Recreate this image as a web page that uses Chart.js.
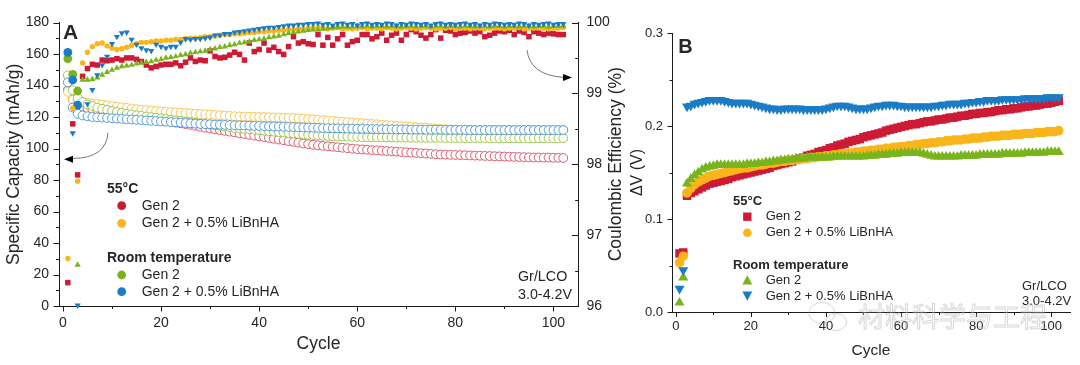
<!DOCTYPE html>
<html><head><meta charset="utf-8">
<script src="https://cdn.jsdelivr.net/npm/chart.js@4.4.1/dist/chart.umd.min.js"></script>
<style>
html,body{margin:0;padding:0;background:#fff;width:1080px;height:365px;overflow:hidden}
#ca{position:absolute;left:0;top:0}
#cb{position:absolute;left:600px;top:0}
</style></head><body>
<canvas id="ca" width="640" height="365" style="width:640px;height:365px"></canvas>
<canvas id="cb" width="480" height="365" style="width:480px;height:365px"></canvas>
<script>
// ---------------- DATA ----------------
const cycles = Array.from({length:102}, (_, i) => i + 1);
const formationCycles = [1, 2, 3];

// Panel A – specific capacity (mAh/g), open circles
const capRed = [137,131,128,126.5,125.5,125,124.5,124,123.5,123,
 122.5,122,121.5,121,120.5,120,119.5,119,118.5,118,
 117.5,117,116.5,116,115.5,115,114.4,113.8,113.2,112.7,
 112.2,111.7,111.2,110.7,110.2,109.7,109.2,108.7,108.2,107.7,
 107.2,106.7,106.2,105.7,105.2,104.7,104.2,103.7,103.2,102.8,
 102.4,102,101.7,101.4,101.1,100.8,100.5,100.2,99.9,99.6,
 99.4,99.2,99,98.8,98.6,98.4,98.2,98,97.8,97.6,
 97.4,97.2,97,96.8,96.6,96.4,96.2,96.1,96,95.9,
 95.8,95.7,95.6,95.5,95.4,95.3,95.2,95.1,95,94.9,
 94.8,94.7,94.6,94.5,94.4,94.3,94.3,94.2,94.2,94.1,94.1,94];
const capYellow = [136,131,130,129.5,129,128.6,128.2,127.8,127.4,127,
 126.6,126.2,125.8,125.4,125,124.7,124.4,124.1,123.8,123.5,
 123.3,123.1,122.9,122.7,122.5,122.3,122.1,121.9,121.7,121.5,
 121.3,121.1,120.9,120.7,120.5,120.4,120.3,120.2,120.1,120,
 119.9,119.8,119.7,119.6,119.5,119.4,119.3,119.1,118.9,118.7,
 118.5,118.2,118,117.7,117.5,117.2,117,116.8,116.5,116.3,
 116.1,115.8,115.6,115.4,115.1,114.9,114.7,114.4,114.2,114,
 113.8,113.5,113.3,113.1,112.8,112.6,112.4,112.2,112.1,112,
 111.9,111.9,111.8,111.8,111.8,111.8,111.8,111.8,111.8,111.8,
 111.8,111.8,111.8,111.8,111.8,111.8,111.8,111.8,111.8,111.8,111.8,111.8];
const capGreen = [146.5,137,132,129.5,128,127,126,125.2,124.5,123.8,
 123.2,122.6,122.1,121.6,121.1,120.7,120.3,119.9,119.5,119.1,
 118.7,118.3,117.9,117.5,117.1,116.7,116.3,115.9,115.5,115.1,
 114.7,114.3,113.9,113.5,113.1,112.8,112.5,112.2,111.9,111.6,
 111.3,111,110.7,110.4,110.1,109.8,109.5,109.2,108.9,108.7,
 108.5,108.3,108.1,107.9,107.8,107.7,107.6,107.5,107.4,107.3,
 107.2,107.2,107.1,107.1,107,107,107,106.9,106.9,106.9,
 106.8,106.8,106.8,106.8,106.7,106.7,106.7,106.7,106.7,106.6,
 106.6,106.6,106.6,106.6,106.6,106.6,106.5,106.5,106.5,106.5,
 106.5,106.5,106.5,106.5,106.5,106.5,106.5,106.5,106.5,106.5,106.5,106.5];
const capBlue = [142,126,122,121,120.5,120,119.8,119.6,119.4,119.2,
 119,118.8,118.6,118.4,118.2,118,117.8,117.6,117.4,117.2,
 117,116.8,116.6,116.4,116.2,116,115.8,115.6,115.5,115.4,
 115.2,115.1,115,114.9,114.8,114.7,114.6,114.5,114.4,114.3,
 114.2,114.1,114,113.9,113.8,113.7,113.6,113.5,113.4,113.3,
 113.2,113.1,113,112.9,112.8,112.8,112.7,112.6,112.6,112.5,
 112.5,112.4,112.4,112.3,112.3,112.2,112.2,112.1,112.1,112.1,
 112,112,112,111.9,111.9,111.9,111.9,111.8,111.8,111.8,
 111.8,111.8,111.7,111.7,111.7,111.7,111.7,111.7,111.7,111.7,
 111.7,111.7,111.7,111.7,111.7,111.7,111.7,111.7,111.7,111.7,111.7,111.7];
// formation-cycle capacities, filled circles
const capFormGreen = [157, 147, 136.5];
const capFormBlue = [161, 143.5, 127.5];

// Panel A – coulombic efficiency (%), filled markers
const ceRed = [96.33,98.57,97.85,99.24,99.35,99.41,99.40,99.47,99.46,99.47,
 99.49,99.47,99.50,99.50,99.48,99.45,99.40,99.36,99.38,99.40,
 99.41,99.41,99.43,99.39,99.44,99.50,99.45,99.47,99.46,99.60,
 99.52,99.50,99.51,99.54,99.58,99.55,99.47,99.71,99.59,99.62,
 99.71,99.61,99.65,99.59,99.55,99.66,99.80,99.71,99.73,99.70,
 99.69,99.83,99.68,99.79,99.68,99.77,99.83,99.68,99.73,99.75,
 99.83,99.83,99.77,99.80,99.85,99.75,99.82,99.85,99.75,99.83,
 99.90,99.87,99.82,99.78,99.83,99.90,99.78,99.89,99.88,99.83,
 99.85,99.86,99.88,99.85,99.87,99.80,99.82,99.85,99.88,99.87,
 99.89,99.83,99.88,99.86,99.80,99.87,99.85,99.83,99.85,99.84,99.83,99.83];
const ceYellow = [96.67,98.79,97.76,99.43,99.58,99.66,99.70,99.71,99.67,99.64,
 99.62,99.63,99.65,99.68,99.70,99.72,99.72,99.73,99.74,99.74,
 99.75,99.75,99.76,99.76,99.77,99.78,99.78,99.79,99.80,99.80,
 99.81,99.82,99.83,99.83,99.84,99.84,99.85,99.86,99.86,99.87,
 99.87,99.88,99.88,99.89,99.89,99.90,99.90,99.91,99.91,99.92,
 99.92,99.93,99.92,99.91,99.92,99.93,99.91,99.92,99.91,99.92,
 99.93,99.91,99.92,99.92,99.91,99.93,99.92,99.91,99.92,99.93,
 99.92,99.91,99.92,99.93,99.92,99.91,99.92,99.92,99.93,99.91,
 99.92,99.92,99.91,99.93,99.92,99.91,99.92,99.93,99.92,99.91,
 99.92,99.92,99.93,99.91,99.92,99.92,99.93,99.92,99.91,99.92,99.92,99.93];
const ceGreen = [null,null,96.58,99.19,99.19,99.20,99.22,99.26,99.30,99.33,
 99.36,99.38,99.39,99.40,99.42,99.43,99.44,99.45,99.47,99.48,
 99.50,99.51,99.52,99.54,99.55,99.57,99.58,99.59,99.60,99.62,
 99.63,99.65,99.66,99.68,99.69,99.71,99.72,99.73,99.75,99.76,
 99.77,99.79,99.80,99.81,99.83,99.85,99.86,99.87,99.88,99.89,
 99.90,99.90,99.91,99.92,99.93,99.93,99.94,99.94,99.94,99.95,
 99.94,99.95,99.94,99.95,99.95,99.94,99.95,99.95,99.94,99.95,
 99.95,99.94,99.95,99.95,99.94,99.95,99.95,99.94,99.95,99.95,
 99.94,99.95,99.95,99.94,99.95,99.95,99.94,99.95,99.95,99.94,
 99.95,99.95,99.94,99.95,99.95,99.94,99.95,99.95,99.94,99.95,99.95,99.95];
const ceBlue = [null,98.44,96.01,null,98.85,99.05,99.26,99.40,99.52,99.70,
 99.80,99.85,99.86,99.76,99.69,99.64,99.61,99.60,99.69,99.66,
 99.64,99.66,99.66,99.72,99.77,99.76,99.77,99.77,99.78,99.79,
 99.82,99.82,99.84,99.84,99.86,99.87,99.88,99.89,99.90,99.91,
 99.92,99.93,99.93,99.94,99.95,99.96,99.96,99.97,99.97,99.98,
 99.98,99.99,99.97,99.98,99.96,99.98,99.99,99.97,99.98,99.96,
 99.98,99.99,99.97,99.98,99.97,99.99,99.98,99.96,99.98,99.97,
 99.99,99.98,99.97,99.98,99.96,99.98,99.99,99.97,99.98,99.97,
 99.98,99.99,99.97,99.98,99.96,99.98,99.97,99.99,99.98,99.97,
 99.98,99.97,99.99,99.98,99.96,99.98,99.97,99.98,99.99,99.97,99.98,99.98];

// Panel B – ΔV (V)
const dvRed = [0.063,0.064,0.125,0.128,0.130,0.132,0.134,0.136,0.138,0.139,
 0.140,0.141,0.142,0.143,0.145,0.146,0.147,0.148,0.149,0.150,
 0.151,0.152,0.153,0.154,0.155,0.157,0.158,0.159,0.160,0.161,
 0.162,0.164,0.165,0.166,0.168,0.169,0.170,0.172,0.173,0.174,
 0.176,0.177,0.179,0.180,0.181,0.183,0.184,0.185,0.186,0.188,
 0.189,0.190,0.191,0.192,0.193,0.195,0.196,0.197,0.198,0.199,
 0.200,0.201,0.202,0.202,0.203,0.204,0.205,0.205,0.206,0.207,
 0.207,0.208,0.209,0.209,0.210,0.211,0.211,0.212,0.213,0.213,
 0.214,0.214,0.215,0.215,0.216,0.217,0.217,0.218,0.218,0.219,
 0.219,0.220,0.221,0.221,0.222,0.222,0.223,0.224,0.224,0.225,0.226,0.227];
const dvYellow = [0.053,0.060,0.128,0.133,0.137,0.140,0.142,0.144,0.146,0.147,
 0.148,0.149,0.150,0.151,0.152,0.153,0.154,0.155,0.155,0.156,
 0.157,0.158,0.158,0.159,0.160,0.160,0.161,0.162,0.162,0.163,
 0.163,0.164,0.164,0.165,0.165,0.166,0.166,0.167,0.167,0.168,
 0.168,0.169,0.169,0.170,0.170,0.171,0.171,0.172,0.172,0.173,
 0.173,0.174,0.174,0.175,0.175,0.176,0.176,0.177,0.177,0.178,
 0.178,0.179,0.179,0.180,0.180,0.181,0.181,0.182,0.182,0.183,
 0.183,0.184,0.184,0.185,0.185,0.185,0.186,0.186,0.187,0.187,
 0.187,0.188,0.188,0.189,0.189,0.189,0.190,0.190,0.190,0.191,
 0.191,0.191,0.192,0.192,0.192,0.193,0.193,0.193,0.194,0.194,0.194,0.195];
const dvGreen = [0.010,0.037,0.138,0.143,0.147,0.150,0.153,0.155,0.156,0.157,
 0.158,0.158,0.158,0.158,0.158,0.158,0.158,0.158,0.159,0.159,
 0.159,0.160,0.160,0.161,0.161,0.162,0.162,0.163,0.163,0.164,
 0.164,0.165,0.165,0.165,0.166,0.166,0.166,0.166,0.166,0.166,
 0.166,0.167,0.167,0.167,0.167,0.167,0.167,0.167,0.167,0.167,
 0.168,0.168,0.168,0.169,0.169,0.169,0.170,0.170,0.170,0.171,
 0.171,0.171,0.171,0.171,0.171,0.170,0.169,0.168,0.167,0.167,
 0.167,0.167,0.167,0.167,0.167,0.168,0.168,0.168,0.168,0.168,
 0.169,0.169,0.169,0.169,0.169,0.169,0.170,0.170,0.170,0.170,
 0.170,0.170,0.171,0.171,0.171,0.171,0.171,0.171,0.172,0.172,0.172,0.172];
const dvBlue = [0.025,0.045,0.221,0.222,0.224,0.225,0.226,0.227,0.228,0.228,
 0.228,0.228,0.227,0.226,0.225,0.225,0.225,0.225,0.225,0.224,
 0.223,0.222,0.221,0.220,0.219,0.219,0.218,0.218,0.219,0.219,
 0.219,0.219,0.219,0.218,0.218,0.218,0.218,0.218,0.218,0.219,
 0.220,0.221,0.222,0.222,0.222,0.221,0.220,0.219,0.219,0.219,
 0.219,0.220,0.221,0.222,0.222,0.223,0.223,0.223,0.222,0.222,
 0.221,0.221,0.221,0.221,0.221,0.221,0.221,0.221,0.222,0.222,
 0.223,0.223,0.224,0.224,0.224,0.224,0.225,0.225,0.226,0.226,
 0.227,0.227,0.228,0.228,0.228,0.228,0.229,0.229,0.229,0.229,
 0.229,0.229,0.230,0.230,0.230,0.230,0.230,0.230,0.231,0.231,0.231,0.231];

// ticks and labels
const xTicks = [0, 20, 40, 60, 80, 100];
const xMinor = [10, 30, 50, 70, 90];
const capTicks = [0, 20, 40, 60, 80, 100, 120, 140, 160, 180];
const capMinor = [10, 30, 50, 70, 90, 110, 130, 150, 170];
const ceTicks = [96, 97, 98, 99, 100];
const ceMinor = [96.5, 97.5, 98.5, 99.5];
const dvTicks = [0, 0.1, 0.2, 0.3];
const dvMinor = [0.05, 0.15, 0.25];
const groupLabels = ['55°C', 'Room temperature'];
const seriesLabels = ['Gen 2', 'Gen 2 + 0.5% LiBnHA'];
const cellLabel = ['Gr/LCO', '3.0-4.2V'];
const watermark = '材料科学与工程';

// ---------------- STYLE ----------------
const FONT = '"Liberation Sans", Arial, Helvetica, sans-serif';
const TXT = '#262626', AXIS = '#1a1a1a';
const COL = {red:'#CE1B35', yellow:'#F9B51A', green:'#78B41B', blue:'#1A7CC4'};
const OPEN = {red:'rgba(206,27,53,0.7)', yellow:'rgba(240,180,30,0.75)', green:'rgba(130,180,30,0.75)', blue:'rgba(26,124,196,0.72)'};
Chart.defaults.font.family = FONT;

function pts(xs, ys){ const o=[]; ys.forEach((v,i)=>{ if(v!==null) o.push({x:xs[i], y:v}); }); return o; }

function tickMarks(ctx, scale, vals, len, kind){
  ctx.beginPath();
  vals.forEach(v=>{
    const p = Math.round(scale.getPixelForValue(v)) + 0.5;
    if (kind==='bottom'){ const y0 = scale.top; ctx.moveTo(p, y0); ctx.lineTo(p, y0+len); }
    else if (kind==='left'){ const x0 = scale.right + 0.5; ctx.moveTo(x0, p); ctx.lineTo(x0-len, p); }
    else { const x0 = scale.left + 0.5; ctx.moveTo(x0, p); ctx.lineTo(x0-len, p); }
  });
  ctx.stroke();
}
function txt(ctx, s, x, y, size, bold, align, base){
  ctx.font = (bold?'bold ':'') + size + 'px ' + FONT;
  ctx.fillStyle = TXT; ctx.textAlign = align||'left'; ctx.textBaseline = base||'middle';
  ctx.fillText(s, x, y);
}
function vtxt(ctx, s, x, y, size){
  ctx.save(); ctx.translate(x, y); ctx.rotate(-Math.PI/2);
  ctx.font = size + 'px ' + FONT; ctx.fillStyle = TXT; ctx.textAlign = 'center'; ctx.textBaseline = 'alphabetic';
  ctx.fillText(s, 0, 0); ctx.restore();
}
function marker(ctx, style, x, y, r, color){
  ctx.fillStyle = color; ctx.beginPath();
  if (style==='circle'){ ctx.arc(x, y, r, 0, Math.PI*2); }
  else if (style==='rect'){ ctx.rect(x-r, y-r, 2*r, 2*r); }
  else if (style==='up'){ ctx.moveTo(x, y-r); ctx.lineTo(x+r*0.95, y+r*0.75); ctx.lineTo(x-r*0.95, y+r*0.75); ctx.closePath(); }
  else { ctx.moveTo(x, y+r); ctx.lineTo(x+r*0.95, y-r*0.75); ctx.lineTo(x-r*0.95, y-r*0.75); ctx.closePath(); }
  ctx.fill();
}
function arrow(ctx, x0, y0, cx, cy, x1, y1, tipX, tipY, dir){
  ctx.save(); ctx.strokeStyle = '#777'; ctx.lineWidth = 1;
  ctx.beginPath(); ctx.moveTo(x0, y0); ctx.quadraticCurveTo(cx, cy, x1, y1); ctx.stroke();
  ctx.fillStyle = '#000'; ctx.beginPath();
  ctx.moveTo(tipX, tipY); ctx.lineTo(tipX - dir*9, tipY - 3.5); ctx.lineTo(tipX - dir*9, tipY + 3.5); ctx.closePath(); ctx.fill();
  ctx.restore();
}

function axisCommon(size, pad){
  return {
    grid:{display:false, drawTicks:false, tickLength:0},
    border:{display:true, color:AXIS, width:1},
    ticks:{padding:pad, color:TXT, font:{family:FONT, size:size}, autoSkip:false, maxRotation:0}
  };
}

// ---------------- CHART A ----------------
const capDS = (data, key, order) => ({type:'scatter', data, yAxisID:'y', pointStyle:'circle', pointRadius:4.4,
  pointBorderWidth:1, pointBorderColor:OPEN[key], pointBackgroundColor:'#fff', showLine:false, clip:false, order});
const ceDS = (data, key, style, r, rot, order) => ({type:'scatter', data, yAxisID:'y2', pointStyle:style, pointRadius:r,
  pointRotation:rot, pointBorderWidth:0, pointBackgroundColor:COL[key], pointBorderColor:COL[key], showLine:false, clip:false, order});

const decoA = {
  id:'decoA',
  afterDraw(chart){
    const ctx = chart.ctx, sx = chart.scales.x, sy = chart.scales.y, sy2 = chart.scales.y2;
    ctx.save(); ctx.strokeStyle = AXIS; ctx.lineWidth = 1;
    tickMarks(ctx, sx, xTicks, 5.5, 'bottom'); tickMarks(ctx, sx, xMinor, 3, 'bottom');
    tickMarks(ctx, sy, capTicks, 6, 'left'); tickMarks(ctx, sy, capMinor, 3.5, 'left');
    tickMarks(ctx, sy2, ceTicks, 6.5, 'rightIn'); tickMarks(ctx, sy2, ceMinor, 3.3, 'rightIn');
    // titles
    txt(ctx, 'Cycle', (chart.chartArea.left+chart.chartArea.right)/2, 349.2, 17.5, false, 'center', 'alphabetic');
    vtxt(ctx, 'Specific Capacity (mAh/g)', 18.8, (chart.chartArea.top+chart.chartArea.bottom)/2, 17.5);
    vtxt(ctx, 'Coulombic Efficiency (%)', 620.7, (chart.chartArea.top+chart.chartArea.bottom)/2, 17.5);
    txt(ctx, 'A', 63, 39.3, 21, true, 'left', 'alphabetic');
    // legend
    txt(ctx, groupLabels[0], 107, 189, 14, true);
    marker(ctx, 'circle', 121.7, 205.7, 4.4, COL.red); txt(ctx, seriesLabels[0], 141.7, 205.7, 14);
    marker(ctx, 'circle', 121.7, 223.3, 4.4, COL.yellow); txt(ctx, seriesLabels[1], 141.7, 223.3, 14);
    txt(ctx, groupLabels[1], 107, 258.3, 14, true);
    marker(ctx, 'circle', 121.7, 275, 4.4, COL.green); txt(ctx, seriesLabels[0], 141.7, 275, 14);
    marker(ctx, 'circle', 121.7, 291.7, 4.4, COL.blue); txt(ctx, seriesLabels[1], 141.7, 291.7, 14);
    txt(ctx, cellLabel[0], 518, 277, 14.3); txt(ctx, cellLabel[1], 518, 295, 14.3);
    // arrows
    arrow(ctx, 108, 133, 106, 158, 73, 158.5, 64, 159.3, -1);
    arrow(ctx, 527, 50, 530, 75, 563, 77.3, 572, 77.5, 1);
    ctx.restore();
  }
};

new Chart(document.getElementById('ca'), {
  data:{datasets:[
    capDS(pts(cycles, capRed), 'red', 12),
    capDS(pts(cycles, capYellow), 'yellow', 11),
    capDS(pts(cycles, capGreen), 'green', 10),
    capDS(pts(cycles, capBlue), 'blue', 9),
    {type:'scatter', data:pts(formationCycles, capFormGreen), yAxisID:'y', pointStyle:'circle', pointRadius:4.4, pointBorderWidth:0, pointBackgroundColor:COL.green, clip:false, order:8},
    {type:'scatter', data:pts(formationCycles, capFormBlue), yAxisID:'y', pointStyle:'circle', pointRadius:4.4, pointBorderWidth:0, pointBackgroundColor:COL.blue, clip:false, order:7},
    ceDS(pts(cycles, ceRed), 'red', 'rect', 3.9, 0, 6),
    ceDS(pts(cycles, ceYellow), 'yellow', 'circle', 2.7, 0, 5),
    ceDS(pts(cycles, ceGreen), 'green', 'triangle', 3.6, 0, 4),
    ceDS(pts(cycles, ceBlue), 'blue', 'triangle', 3.6, 180, 3)
  ]},
  options:{
    responsive:false, animation:false, events:[],
    layout:{padding:{top:22.5, left:0, right:0, bottom:0}},
    plugins:{legend:{display:false}, tooltip:{enabled:false}},
    scales:{
      x:Object.assign(axisCommon(14, 9), {type:'linear', position:'bottom', min:-0.8, max:105,
        afterFit(s){ s.height = 59; }, afterBuildTicks(s){ s.ticks = xTicks.map(v=>({value:v})); }}),
      y:Object.assign(axisCommon(14, 10), {type:'linear', position:'left', min:0, max:180,
        afterFit(s){ s.width = 59; }, afterBuildTicks(s){ s.ticks = capTicks.map(v=>({value:v})); }}),
      y2:Object.assign(axisCommon(14, 8.5), {type:'linear', position:'right', min:96, max:100,
        afterFit(s){ s.width = 62; }, afterBuildTicks(s){ s.ticks = ceTicks.map(v=>({value:v})); }})
    }
  },
  plugins:[decoA]
});

// ---------------- CHART B ----------------
const dvDS = (data, key, style, r, rot, order) => ({type:'scatter', data, pointStyle:style, pointRadius:r, pointRotation:rot,
  pointBorderWidth:0, pointBackgroundColor:COL[key], pointBorderColor:COL[key], showLine:false, clip:false, order});

const decoB = {
  id:'decoB',
  afterDraw(chart){
    const ctx = chart.ctx, sx = chart.scales.x, sy = chart.scales.y;
    ctx.save(); ctx.strokeStyle = AXIS; ctx.lineWidth = 1;
    tickMarks(ctx, sx, xTicks, 5, 'bottom'); tickMarks(ctx, sx, xMinor, 3, 'bottom');
    tickMarks(ctx, sy, dvTicks, 5, 'left'); tickMarks(ctx, sy, dvMinor, 3, 'left');
    txt(ctx, 'Cycle', (chart.chartArea.left+chart.chartArea.right)/2, 354.5, 15.5, false, 'center', 'alphabetic');
    vtxt(ctx, 'ΔV (V)', 41.5, (chart.chartArea.top+chart.chartArea.bottom)/2, 16);
    txt(ctx, 'B', 78.3, 53.3, 20, true, 'left', 'alphabetic');
    txt(ctx, groupLabels[0], 133, 201.7, 13, true);
    marker(ctx, 'rect', 147.3, 216.7, 4.2, COL.red); txt(ctx, seriesLabels[0], 165.7, 216.7, 13);
    marker(ctx, 'circle', 147.3, 232.7, 4.3, COL.yellow); txt(ctx, seriesLabels[1], 165.7, 232.7, 13);
    txt(ctx, groupLabels[1], 133, 265, 13, true);
    marker(ctx, 'up', 147.3, 280.5, 5.2, COL.green); txt(ctx, seriesLabels[0], 165.7, 280, 13);
    marker(ctx, 'down', 147.3, 295.5, 5.2, COL.blue); txt(ctx, seriesLabels[1], 165.7, 296, 13);
    txt(ctx, cellLabel[0], 422, 286.7, 13); txt(ctx, cellLabel[1], 422, 301.7, 13);
    // faint watermark
    ctx.globalAlpha = 0.4; ctx.strokeStyle = '#9a9a9a'; ctx.lineWidth = 1;
    ctx.beginPath(); ctx.ellipse(222, 313, 13, 10.5, 0, 0, Math.PI*2); ctx.stroke();
    ctx.beginPath(); ctx.ellipse(236, 322, 10.5, 8.5, 0, 0, Math.PI*2); ctx.stroke();
    ctx.font = '27px "Noto Sans CJK SC", sans-serif'; ctx.textAlign = 'left'; ctx.textBaseline = 'middle';
    ctx.fillStyle = 'rgba(255,255,255,0.6)'; ctx.fillText(watermark, 258, 317);
    ctx.strokeText(watermark, 258, 317);
    ctx.restore();
  }
};

new Chart(document.getElementById('cb'), {
  data:{datasets:[
    dvDS(pts(cycles, dvRed), 'red', 'rect', 6, 0, 4),
    dvDS(pts(cycles, dvYellow), 'yellow', 'circle', 4.8, 0, 3),
    dvDS(pts(cycles, dvGreen), 'green', 'triangle', 5.8, 0, 2),
    dvDS(pts(cycles, dvBlue), 'blue', 'triangle', 5.8, 180, 1)
  ]},
  options:{
    responsive:false, animation:false, events:[],
    layout:{padding:{top:33, left:0, right:10, bottom:0}},
    plugins:{legend:{display:false}, tooltip:{enabled:false}},
    scales:{
      x:Object.assign(axisCommon(13, 7), {type:'linear', position:'bottom', min:-1, max:105,
        afterFit(s){ s.height = 53; }, afterBuildTicks(s){ s.ticks = xTicks.map(v=>({value:v})); }}),
      y:Object.assign(axisCommon(13, 9), {type:'linear', position:'left', min:0, max:0.3,
        afterFit(s){ s.width = 72; }, afterBuildTicks(s){ s.ticks = dvTicks.map(v=>({value:v})); }})
    }
  },
  plugins:[decoB]
});
// tick label formatting for B y-axis
Chart.getChart('cb').options.scales.y.ticks.callback = v => Number(v).toFixed(1);
Chart.getChart('cb').update('none');
</script>
</body></html>
